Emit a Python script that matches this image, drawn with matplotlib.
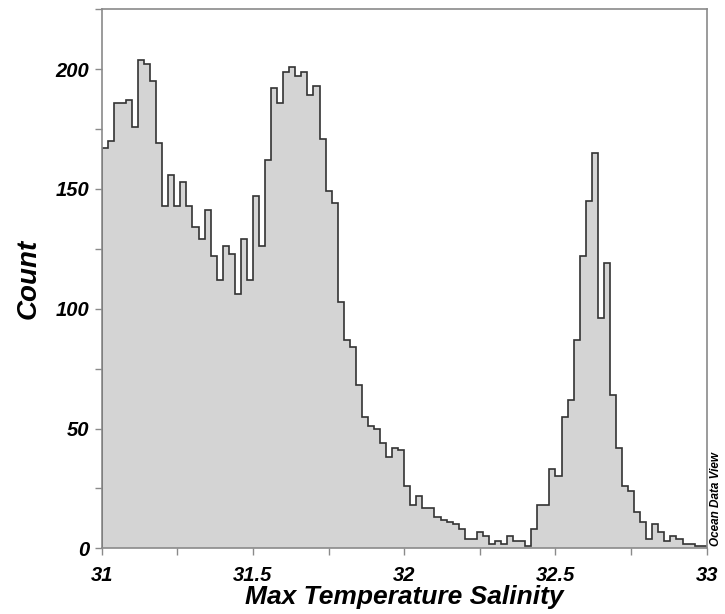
import numpy as np
import matplotlib.pyplot as plt
from matplotlib.ticker import MultipleLocator

# histogram of max-temperature salinity, 0.02 wide bins from 31 to 33
bin_edges = np.linspace(31.0, 33.0, 101)
counts = [
    167, 170, 186, 186, 187, 176, 204, 202, 195, 169,
    143, 156, 143, 153, 143, 134, 129, 141, 122, 112,
    126, 123, 106, 129, 112, 147, 126, 162, 192, 186,
    199, 201, 197, 199, 189, 193, 171, 149, 144, 103,
    87, 84, 68, 55, 51, 50, 44, 38, 42, 41,
    26, 18, 22, 17, 17, 13, 12, 11, 10, 8,
    4, 4, 7, 5, 2, 3, 2, 5, 3, 3,
    1, 8, 18, 18, 33, 30, 55, 62, 87, 122,
    145, 165, 96, 119, 64, 42, 26, 24, 15, 11,
    4, 10, 7, 3, 5, 4, 2, 2, 1, 1,
]
x_ticks = [31, 31.5, 32, 32.5, 33]
x_ticklabels = ['31', '31.5', '32', '32.5', '33']
y_ticks = [0, 50, 100, 150, 200]

plt.rcParams['font.family'] = ['Liberation Sans', 'DejaVu Sans']

fig = plt.figure(figsize=(7.25, 6.14), dpi=100)
ax = fig.add_axes([0.1403, 0.107, 0.8345, 0.878])

ax.stairs(counts, bin_edges, fill=True, color='#d4d4d4', zorder=1)
ax.stairs(counts, bin_edges, color='#333333', linewidth=1.2, zorder=2)

ax.set_xlim(31, 33)
ax.set_ylim(0, 225)
ax.set_xticks(x_ticks)
ax.set_xticklabels(x_ticklabels)
ax.set_yticks(y_ticks)
ax.xaxis.set_minor_locator(MultipleLocator(0.25))
ax.yaxis.set_minor_locator(MultipleLocator(25))

for side in ax.spines.values():
    side.set_color('#8a8a8a')
    side.set_linewidth(1.2)

ax.tick_params(which='both', direction='out', color='#8a8a8a', width=1.0, length=5)
ax.tick_params(axis='x', pad=8)
ax.tick_params(axis='y', pad=4)
for lab in ax.get_xticklabels() + ax.get_yticklabels():
    lab.set_fontsize(14.5)
    lab.set_fontweight('bold')
    lab.set_fontstyle('italic')

ax.set_xlabel('Max Temperature Salinity', fontsize=19, fontweight='bold',
              fontstyle='italic', va='center')
ax.xaxis.set_label_coords(0.5, -0.09)
ax.set_ylabel('Count', fontsize=20, fontweight='bold',
              fontstyle='italic', va='center')
ax.yaxis.set_label_coords(-0.12, 0.5)

fig.text(0.987, 0.110, 'Ocean Data View', rotation=90, fontsize=8.5,
         fontweight='bold', fontstyle='italic', ha='center', va='bottom')

fig.savefig('out.png', dpi=100)
